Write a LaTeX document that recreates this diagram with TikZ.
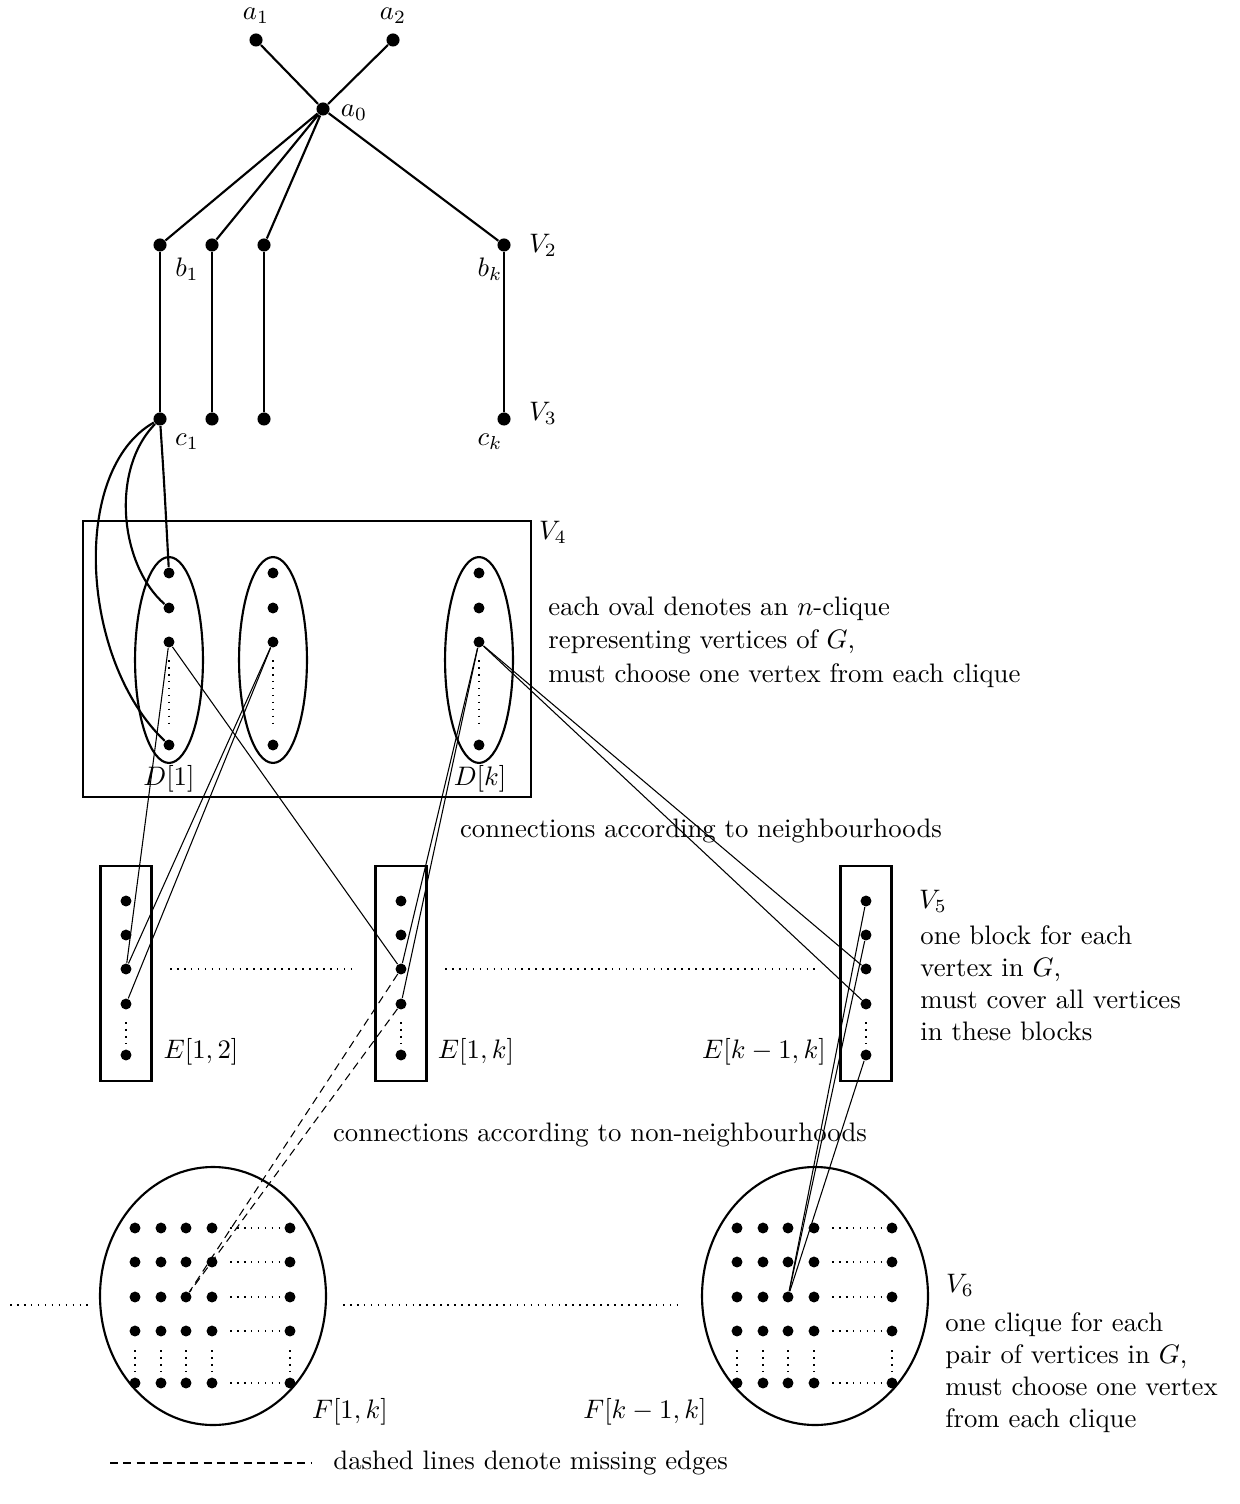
\documentclass[tikz,border=0pt]{standalone}
\usetikzlibrary{shapes.geometric}
\begin{document}
\begin{tikzpicture}[x=0.374pt,y=-0.374pt,
  vtx/.style={circle,fill=black,inner sep=0pt,minimum size=4.9pt},
  sdot/.style={circle,fill=black,inner sep=0pt,minimum size=4.1pt},
  edge/.style={line width=0.8pt},
  conn/.style={line width=0.4pt},
  miss/.style={line width=0.4pt,dash pattern=on 3pt off 2pt},
  dotl/.style={line width=0.4pt,dash pattern=on 0.6pt off 2pt},
  oval/.style={draw,ellipse,line width=0.8pt,inner sep=0pt},
  txt/.style={anchor=west,align=left}
]
\useasboundingbox (0,0) rectangle (1239,1504);

% top tree
\node[vtx] (a1) at (256,40) {};
\node[vtx] (a2) at (393,40) {};
\node[vtx] (a0) at (323,109) {};
\node[vtx] (b1) at (160,245) {};
\node[vtx] (b2) at (212,245) {};
\node[vtx] (b3) at (264,245) {};
\node[vtx] (bk) at (504,245) {};
\node[vtx] (c1) at (160,419) {};
\node[vtx] (c2) at (212,419) {};
\node[vtx] (c3) at (264,419) {};
\node[vtx] (ck) at (504,419) {};
\draw[edge] (a1) -- (a0) (a2) -- (a0);
\draw[edge] (a0) -- (b1) (a0) -- (b2) (a0) -- (b3) (a0) -- (bk);
\draw[edge] (b1) -- (c1) (b2) -- (c2) (b3) -- (c3) (bk) -- (ck);
\node at (256,16) {$a_1$};
\node at (393,16) {$a_2$};
\node at (354,113) {$a_0$};
\node at (187,269) {$b_1$};
\node at (490,269) {$b_k$};
\node at (543,245) {$V_2$};
\node at (187,442) {$c_1$};
\node at (490,442) {$c_k$};
\node at (543,413) {$V_3$};

% V4
\draw[edge] (83,521) rectangle (531,797);
\node at (553,532) {$V_4$};
\foreach \n/\x in {1/169,2/273,k/479}{
  \node[oval,minimum width=25.4pt,minimum height=77pt] (D\n) at (\x,660) {};
  \node[sdot] (d\n-1) at (\x,573) {};
  \node[sdot] (d\n-2) at (\x,608) {};
  \node[sdot] (d\n-3) at (\x,642) {};
  \node[sdot] (d\n-4) at (\x,745) {};
  \draw[dotl] (\x,660) -- (\x,726);
}
\node at (169,779) {$D[1]$};
\node at (480,779) {$D[k]$};
\node[txt] at (539,642) {each oval denotes an $n$-clique\\[0.5pt]representing vertices of $G$,\\[0.5pt]must choose one vertex from each clique};

\draw[edge] (c1) .. controls (164,480) .. (d1-1);
\draw[edge] (c1) .. controls (110,470) and (120,565) .. (d1-2);
\draw[edge] (c1) .. controls (70,470) and (80,660) .. (d1-4);

\node at (701,831) {connections according to neighbourhoods};

% V5
\foreach \n/\x in {12/126,1k/401,kk/866}{
  \draw[edge] (\x-25.5,866) rectangle (\x+25.5,1081);
  \node[sdot] (e\n-1) at (\x,901) {};
  \node[sdot] (e\n-2) at (\x,935) {};
  \node[sdot] (e\n-3) at (\x,969) {};
  \node[sdot] (e\n-4) at (\x,1004) {};
  \node[sdot] (e\n-5) at (\x,1055) {};
  \draw[dotl] (\x,1022) -- (\x,1046);
}
\node at (201,1052) {$E[1,2]$};
\node at (476,1052) {$E[1,k]$};
\node at (764,1052) {$E[k-1,k]$};
\draw[dotl] (170,969) -- (355,969);
\draw[dotl] (445,969) -- (820,969);
\node at (933,901) {$V_5$};
\node[txt] at (911,983) {one block for each\\vertex in $G$,\\must cover all vertices\\in these blocks};

\draw[conn] (d1-3) -- (e12-3);
\draw[conn] (d1-3) -- (e1k-3);
\draw[conn] (d2-3) -- (e12-3);
\draw[conn] (d2-3) -- (e12-4);
\draw[conn] (dk-3) -- (e1k-3);
\draw[conn] (dk-3) -- (e1k-4);
\draw[conn] (dk-3) -- (ekk-3);
\draw[conn] (dk-3) -- (ekk-4);

\node at (600,1135) {connections according to non-neighbourhoods};

% V6
\foreach \n/\x in {1/213,2/815}{
  \node[oval,minimum width=84.5pt,minimum height=96.5pt] (F\n) at (\x,1296) {};
  \foreach \r/\y in {1/1228,2/1262,3/1297,4/1331,5/1383}{
    \foreach \c/\dx in {1/-78,2/-52,3/-27,4/-1,5/77}{
      \node[sdot] (f\n-\r-\c) at (\x+\dx,\y) {};
    }
    \draw[dotl] (\x+17,\y) -- (\x+72,\y);
  }
  \foreach \dx in {-78,-52,-27,-1,77}{
    \draw[dotl] (\x+\dx,1350) -- (\x+\dx,1374);
  }
}
\node at (350,1412) {$F[1,k]$};
\node at (645,1412) {$F[k-1,k]$};
\node at (960,1285) {$V_6$};
\node[txt] at (936,1373) {one clique for each\\pair of vertices in $G$,\\must choose one vertex\\from each clique};
\draw[dotl] (10,1305) -- (90,1305);
\draw[dotl] (343,1305) -- (680,1305);

\draw[miss] (e1k-3) -- (f1-3-3);
\draw[miss] (e1k-4) -- (f1-3-3);
\draw[conn] (ekk-1) -- (f2-3-3);
\draw[conn] (ekk-2) -- (f2-3-3);
\draw[conn] (ekk-5) -- (f2-3-3);

% legend
\coordinate (lg1) at (110,1463);
\coordinate (lg2) at (312,1463);
\draw[miss] (lg1) -- (lg2);
\node[anchor=west] at (324,1463) {dashed lines denote missing edges};
\end{tikzpicture}
\end{document}
